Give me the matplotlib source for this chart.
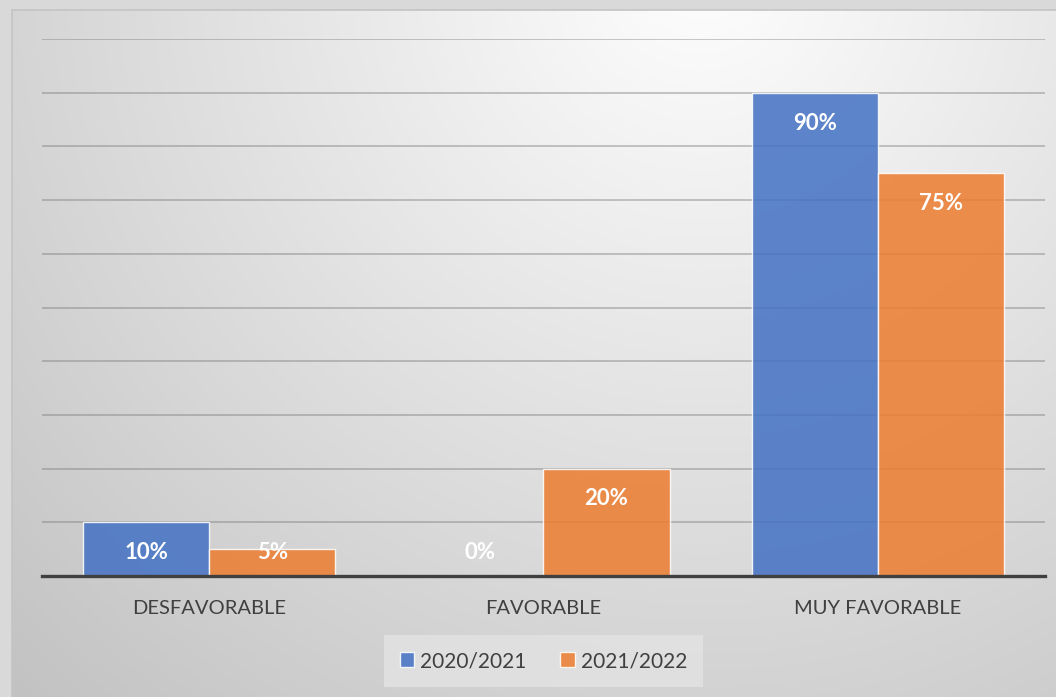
import numpy as np
import matplotlib
matplotlib.use("Agg")
import matplotlib.pyplot as plt

categories = ["DESFAVORABLE", "FAVORABLE", "MUY FAVORABLE"]
series_names = ["2020/2021", "2021/2022"]
values_2020 = [10, 0, 90]
values_2021 = [5, 20, 75]
colors = ["#4472C4", "#ED7D31"]

W, H = 1056, 697
fig = plt.figure(figsize=(W / 100, H / 100), dpi=100)
fig.patch.set_facecolor("#d9d9d9")

# Shaded panel behind the chart
bg = fig.add_axes([0, 0, 1, 1], zorder=-10)
bg.set_xlim(0, W)
bg.set_ylim(H, 0)
bg.axis("off")
yy, xx = np.mgrid[0:H, 0:W]
d = np.hypot(xx - 700, yy + 30) / 1000.0
shade = np.clip(254 - 60 * d, 180, 255) / 255.0
img = np.dstack([shade, shade, shade])
bg.imshow(img, extent=(0, W, H, 0), aspect="auto", interpolation="bilinear")
outer = np.ones((H, W, 4))
outer[..., :3] = 0xd9 / 255.0
outer[..., 3] = 0
outer[:10, :, 3] = 1
outer[:, :12, 3] = 1
bg.imshow(outer, extent=(0, W, H, 0), aspect="auto", interpolation="nearest")
bg.plot([12, 12], [10, H], color="#c4c4c4", lw=1.2)
bg.plot([12, W], [10, 10], color="#c4c4c4", lw=1.2)

ax = fig.add_axes([42 / W, 1 - 576 / H, (1045 - 42) / W, (576 - 39) / H])
ax.set_facecolor("none")

x = np.arange(len(categories))
bw = 0.377
font = "Lato"

for i, (vals, name, col) in enumerate(zip([values_2020, values_2021], series_names, colors)):
    pos = x + (i - 0.5) * bw
    ax.bar(pos, vals, width=bw, color=col, alpha=0.86, edgecolor=(1, 1, 1, 0.55),
           linewidth=1.0, label=name, zorder=3)
    for p, v in zip(pos, vals):
        ax.annotate(f"{v}%", (p, max(v - 5, 5)), xytext=(0, -2.5), textcoords="offset points",
                    ha="center", va="center", color="white",
                    fontsize=16, fontweight="bold", family=font, zorder=5)

ax.set_xlim(-0.5, 2.5)
ax.set_ylim(0, 100)
ax.set_yticks(np.arange(10, 101, 10))
ax.yaxis.grid(True, color="#7a7a7a", alpha=0.45, linewidth=1.3, zorder=1)
ax.set_axisbelow(True)
ax.tick_params(axis="y", left=False, labelleft=False)
ax.set_xticks(x)
ax.set_xticklabels(categories, fontsize=14.5, color="#404040", family=font)
ax.tick_params(axis="x", length=0, pad=17.5)
for s in ["top", "right", "left"]:
    ax.spines[s].set_visible(False)
ax.spines["bottom"].set_color("#404040")
ax.spines["bottom"].set_linewidth(2.4)
ax.spines["bottom"].set_zorder(6)

leg = fig.legend(loc="center", bbox_to_anchor=(543.5 / W, 1 - 661 / H), ncol=2,
                 frameon=True, fancybox=False, prop={"family": font, "size": 15},
                 handlelength=0.7, handleheight=0.7, handletextpad=0.3,
                 columnspacing=1.6, borderpad=0.75, borderaxespad=0)
leg.get_frame().set_facecolor("#e2e2e2")
leg.get_frame().set_edgecolor("none")
leg.get_frame().set_alpha(0.85)
for t in leg.get_texts():
    t.set_color("#404040")

fig.savefig("out.png", dpi=100, facecolor=fig.get_facecolor())
